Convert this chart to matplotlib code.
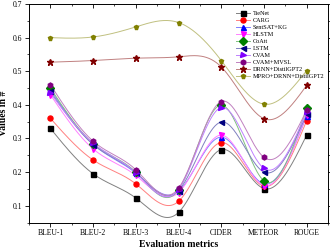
import matplotlib.pyplot as plt
import numpy as np
from matplotlib.colors import to_rgb
from matplotlib.lines import Line2D
from matplotlib.ticker import MultipleLocator

plt.rcParams["font.family"] = ["Liberation Serif", "DejaVu Serif"]

metrics = ["BLEU-1", "BLEU-2", "BLEU-3", "BLEU-4", "CIDER", "METEOR", "ROUGE"]

tienet = [0.330, 0.195, 0.123, 0.080, 0.267, 0.151, 0.310]
carg = [0.360, 0.236, 0.165, 0.113, 0.288, 0.158, 0.353]
sentsat_kg = [0.445, 0.283, 0.197, 0.143, 0.304, 0.165, 0.367]
hlstm = [0.430, 0.269, 0.190, 0.139, 0.310, 0.160, 0.370]
coatt = [0.450, 0.285, 0.200, 0.147, 0.399, 0.174, 0.390]
lstm = [0.440, 0.282, 0.199, 0.145, 0.349, 0.200, 0.372]
cvam = [0.435, 0.286, 0.198, 0.148, 0.392, 0.211, 0.380]
cvam_mvsl = [0.460, 0.292, 0.207, 0.152, 0.410, 0.244, 0.384]
drnn_gpt2 = [0.527, 0.532, 0.539, 0.543, 0.513, 0.359, 0.458]
mpro_drnn_gpt2 = [0.600, 0.602, 0.632, 0.645, 0.532, 0.402, 0.502]

series = [
    ("TieNet", tienet, "#000000", "s"),
    ("CARG", carg, "#ff0000", "o"),
    ("SentSAT+KG", sentsat_kg, "#0000ff", "^"),
    ("HLSTM", hlstm, "#ff00ff", "v"),
    ("CoAtt", coatt, "#008000", "D"),
    ("LSTM", lstm, "#000080", "<"),
    ("CVAM", cvam, "#8000ff", ">"),
    ("CVAM+MVSL", cvam_mvsl, "#800080", "h"),
    ("DRNN+DistilGPT2", drnn_gpt2, "#800000", "*"),
    ("MPRO+DRNN+DistilGPT2", mpro_drnn_gpt2, "#808000", "p"),
]


def natural_spline(x, y, num=300):
    # plain natural cubic spline, used only to draw the smooth connecting curve
    x = np.asarray(x, float)
    y = np.asarray(y, float)
    n = len(x)
    h = np.diff(x)
    a = np.zeros((n, n))
    b = np.zeros(n)
    a[0, 0] = a[-1, -1] = 1
    for i in range(1, n - 1):
        a[i, i - 1] = h[i - 1]
        a[i, i] = 2 * (h[i - 1] + h[i])
        a[i, i + 1] = h[i]
        b[i] = 3 * ((y[i + 1] - y[i]) / h[i] - (y[i] - y[i - 1]) / h[i - 1])
    c = np.linalg.solve(a, b)
    xs = np.linspace(x[0], x[-1], num)
    idx = np.clip(np.searchsorted(x, xs) - 1, 0, n - 2)
    dx = xs - x[idx]
    bb = (y[idx + 1] - y[idx]) / h[idx] - h[idx] * (2 * c[idx] + c[idx + 1]) / 3
    dd = (c[idx + 1] - c[idx]) / (3 * h[idx])
    ys = y[idx] + bb * dx + c[idx] * dx**2 + dd * dx**3
    return xs, ys


def lighten(color, amount=0.5):
    r, g, b = to_rgb(color)
    return (r + (1 - r) * amount, g + (1 - g) * amount, b + (1 - b) * amount)


fig = plt.figure(figsize=(3.3, 2.52), dpi=100)
ax = fig.add_axes([0.088, 0.117, 0.906, 0.867])

x = np.arange(len(metrics))
handles = []
for name, vals, color, marker in series:
    xs, ys = natural_spline(x, vals)
    lc = lighten(color, 0.5)
    ax.plot(xs, ys, color=lc, lw=0.7, zorder=2)
    ms = 5 if marker == "*" else 3.6
    ax.plot(x, vals, ls="none", marker=marker, color=color, ms=ms, zorder=3)
    handles.append(Line2D([], [], color=lc, lw=0.7, marker=marker,
                          markerfacecolor=color, markeredgecolor=color, ms=ms))

ax.set_xlim(-0.5, 6.5)
ax.set_ylim(0.05, 0.7)
ax.set_xticks(x)
ax.set_xticklabels(metrics, fontsize=5.5)
ax.xaxis.set_minor_locator(MultipleLocator(0.5))
ax.yaxis.set_major_locator(MultipleLocator(0.1))
ax.yaxis.set_minor_locator(MultipleLocator(0.05))
ax.tick_params(axis="y", labelsize=5.5)
ax.tick_params(which="major", direction="out", length=3, width=0.6, top=True, right=True, pad=2)
ax.tick_params(which="minor", direction="out", length=1.6, width=0.5, top=True, right=True)
for spine in ax.spines.values():
    spine.set_linewidth(0.7)

# mirrored ticks on top/right point inward
for tick in ax.xaxis.get_major_ticks() + ax.xaxis.get_minor_ticks():
    tick.tick2line.set_marker(3)
for tick in ax.yaxis.get_major_ticks() + ax.yaxis.get_minor_ticks():
    tick.tick2line.set_marker(1)

ax.set_xlabel("Evaluation metrics", fontsize=7, fontweight="bold", labelpad=2)
ax.set_ylabel("Values in #", fontsize=7, fontweight="bold", labelpad=3)

ax.legend(handles, [s[0] for s in series], loc="upper right",
          bbox_to_anchor=(1.0, 0.985), fontsize=4.5, frameon=False,
          handlelength=2.2, handletextpad=0.4, labelspacing=0.25,
          borderaxespad=0.2)

fig.savefig("out.png", dpi=100)
